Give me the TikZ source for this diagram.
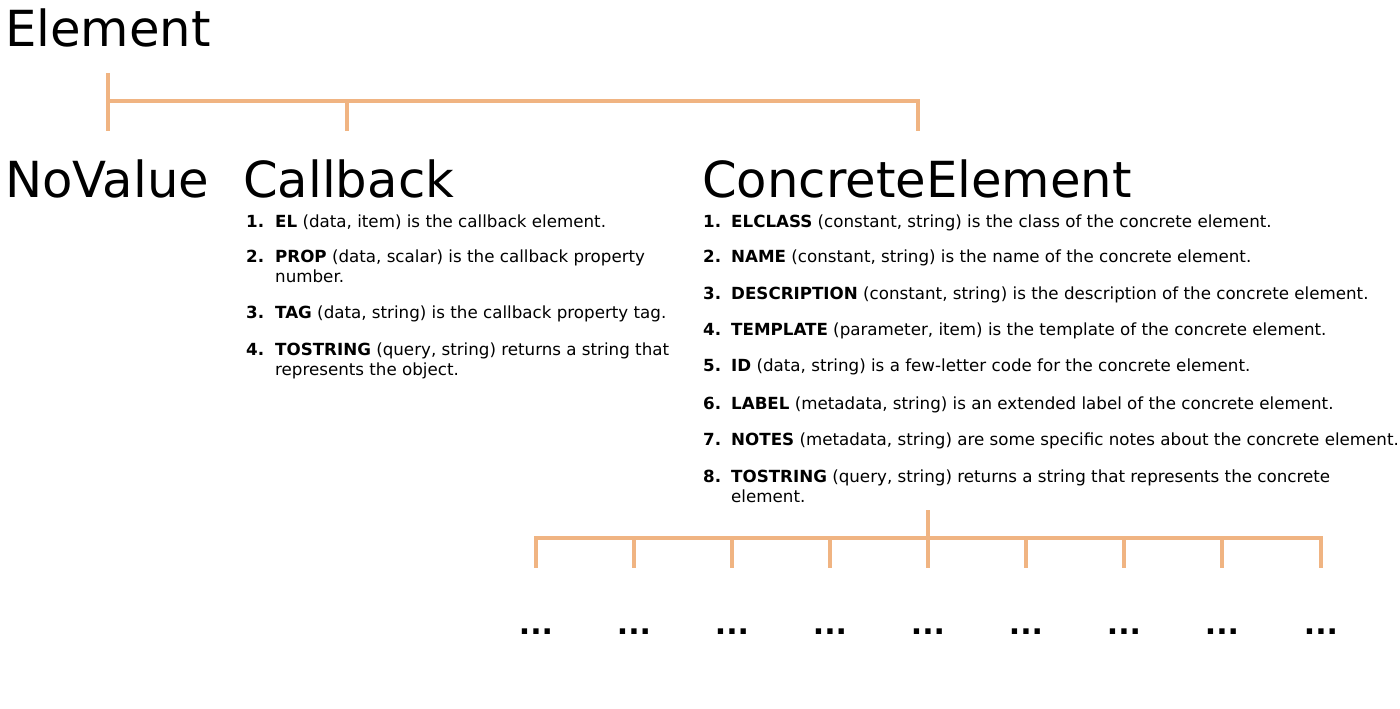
\documentclass[tikz,border=0pt]{standalone}
\usepackage{fontspec}
\setmainfont{DejaVu Sans}
\definecolor{treeline}{RGB}{240,180,130}
\newcommand{\twolines}[2]{\begin{tabular}[t]{@{}l@{}}#1\\#2\end{tabular}}
\begin{document}
\begin{tikzpicture}[x=1pt,y=-1pt,
  title/.style={anchor=base west,inner sep=0pt,font=\fontsize{49.7}{55}\selectfont},
  num/.style={anchor=base west,inner sep=0pt,font=\fontsize{16.7}{20}\selectfont\bfseries},
  itemtext/.style={anchor=base west,inner sep=0pt,font=\fontsize{16.7}{20}\selectfont},
  dots/.style={anchor=base,inner sep=0pt,font=\fontsize{30}{34}\selectfont\bfseries},
  branch/.style={draw=treeline,line width=3.5pt,line cap=butt}]
\useasboundingbox (0,0) rectangle (1400,709);

% titles
\node[title] (element) at (5,47) {Element};
\node[title] (novalue) at (5,197) {NoValue};
\node[title] (callback) at (243,197) {Callback};
\node[title] (concrete) at (702,197) {ConcreteElement};

% top tree
\coordinate (t0) at (108,73);
\coordinate (t1) at (108,131);
\coordinate (h0) at (108,101);
\coordinate (h1) at (918,101);
\coordinate (c0) at (347,101);
\coordinate (c1) at (347,131);
\coordinate (e0) at (918,101);
\coordinate (e1) at (918,131);
\draw[branch] (t0) -- (t1);
\draw[branch] (h0) -- ([xshift=1.75pt]h1);
\draw[branch] (c0) -- (c1);
\draw[branch] ([yshift=-1.75pt]e0) -- (e1);

% Callback list
\node[num] (cbn1) at (246,227) {1.};
\node[itemtext] (cbt1) at (275,227) {\textbf{EL} (data, item) is the callback element.};
\node[num] (cbn2) at (246,262) {2.};
\node[itemtext] (cbt2) at (275,262) {\twolines{\textbf{PROP} (data, scalar) is the callback property}{number.}};
\node[num] (cbn3) at (246,318) {3.};
\node[itemtext] (cbt3) at (275,318) {\textbf{TAG} (data, string) is the callback property tag.};
\node[num] (cbn4) at (246,355) {4.};
\node[itemtext] (cbt4) at (275,355) {\twolines{\textbf{TOSTRING} (query, string) returns a string that}{represents the object.}};

% ConcreteElement list
\node[num] (cen1) at (703,227) {1.};
\node[itemtext] (cet1) at (731,227) {\textbf{ELCLASS} (constant, string) is the class of the concrete element.};
\node[num] (cen2) at (703,262) {2.};
\node[itemtext] (cet2) at (731,262) {\textbf{NAME} (constant, string) is the name of the concrete element.};
\node[num] (cen3) at (703,299) {3.};
\node[itemtext] (cet3) at (731,299) {\textbf{DESCRIPTION} (constant, string) is the description of the concrete element.};
\node[num] (cen4) at (703,335) {4.};
\node[itemtext] (cet4) at (731,335) {\textbf{TEMPLATE} (parameter, item) is the template of the concrete element.};
\node[num] (cen5) at (703,371) {5.};
\node[itemtext] (cet5) at (731,371) {\textbf{ID} (data, string) is a few-letter code for the concrete element.};
\node[num] (cen6) at (703,409) {6.};
\node[itemtext] (cet6) at (731,409) {\textbf{LABEL} (metadata, string) is an extended label of the concrete element.};
\node[num] (cen7) at (703,445) {7.};
\node[itemtext] (cet7) at (731,445) {\textbf{NOTES} (metadata, string) are some specific notes about the concrete element.};
\node[num] (cen8) at (703,482) {8.};
\node[itemtext] (cet8) at (731,482) {\twolines{\textbf{TOSTRING} (query, string) returns a string that represents the concrete}{element.}};

% bottom tree
\coordinate (b0) at (928,510);
\coordinate (b1) at (928,538);
\coordinate (bl) at (536,538);
\coordinate (br) at (1321,538);
\draw[branch] (b0) -- (b1);
\draw[branch] ([xshift=-1.75pt]bl) -- ([xshift=1.75pt]br);
\foreach \i/\x in {1/536,2/634,3/732,4/830,5/928,6/1026,7/1124,8/1222,9/1321}{
  \coordinate (s\i) at (\x,538);
  \coordinate (d\i) at (\x,568);
  \draw[branch] (s\i) -- (d\i);
  \node[dots] (dots\i) at (\x,634) {...};
}
\end{tikzpicture}
\end{document}
